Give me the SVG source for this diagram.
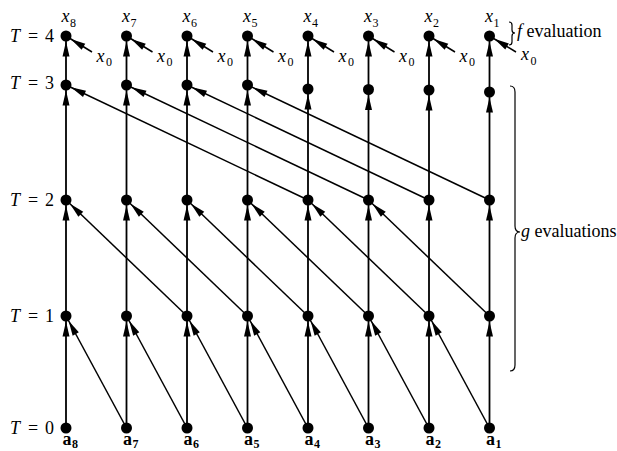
<svg xmlns="http://www.w3.org/2000/svg" width="617" height="451" viewBox="0 0 617 451" font-family="'Liberation Serif', 'DejaVu Serif', serif">
<style>
text{font-family:'Liberation Serif','DejaVu Serif',serif;fill:#000}
.it{font-style:italic}
.lab{font-size:18px}
.sub{font-size:12px;font-style:normal}
.bold{font-weight:bold}
.v{stroke:#000;stroke-width:1.8;fill:none;marker-end:url(#ah)}
.d{stroke:#000;stroke-width:1.5;fill:none;marker-end:url(#ah)}
.node{fill:#000}
.brace{stroke:#000;stroke-width:1.2;fill:none}
</style>
<defs>
<marker id="ah" markerUnits="userSpaceOnUse" markerWidth="16" markerHeight="8" refX="20.5" refY="3.5" orient="auto" overflow="visible">
<path d="M0,0 L15,3.5 L0,7 z" fill="#000"/>
</marker>
</defs>
<rect width="617" height="451" fill="#fff"/>
<g id="connectors">
<line class="v" x1="66" y1="428" x2="66" y2="316"/>
<line class="v" x1="126.5" y1="428" x2="126.5" y2="316"/>
<line class="v" x1="187" y1="428" x2="187" y2="316"/>
<line class="v" x1="247.5" y1="428" x2="247.5" y2="316"/>
<line class="v" x1="308" y1="428" x2="308" y2="316"/>
<line class="v" x1="368.5" y1="428" x2="368.5" y2="316"/>
<line class="v" x1="429" y1="428" x2="429" y2="316"/>
<line class="v" x1="489.5" y1="428" x2="489.5" y2="316"/>
<line class="v" x1="66" y1="316" x2="66" y2="200"/>
<line class="v" x1="126.5" y1="316" x2="126.5" y2="200"/>
<line class="v" x1="187" y1="316" x2="187" y2="200"/>
<line class="v" x1="247.5" y1="316" x2="247.5" y2="200"/>
<line class="v" x1="308" y1="316" x2="308" y2="200"/>
<line class="v" x1="368.5" y1="316" x2="368.5" y2="200"/>
<line class="v" x1="429" y1="316" x2="429" y2="200"/>
<line class="v" x1="489.5" y1="316" x2="489.5" y2="200"/>
<line class="v" x1="66" y1="200" x2="66" y2="85"/>
<line class="v" x1="126.5" y1="200" x2="126.5" y2="85"/>
<line class="v" x1="187" y1="200" x2="187" y2="85"/>
<line class="v" x1="247.5" y1="200" x2="247.5" y2="85"/>
<line class="v" x1="308" y1="200" x2="308" y2="89"/>
<line class="v" x1="368.5" y1="200" x2="368.5" y2="89.5"/>
<line class="v" x1="429" y1="200" x2="429" y2="90"/>
<line class="v" x1="489.5" y1="200" x2="489.5" y2="92"/>
<line class="v" x1="66" y1="85" x2="66" y2="36"/>
<line class="v" x1="126.5" y1="85" x2="126.5" y2="36"/>
<line class="v" x1="187" y1="85" x2="187" y2="36"/>
<line class="v" x1="247.5" y1="85" x2="247.5" y2="36"/>
<line class="v" x1="308" y1="89" x2="308" y2="36"/>
<line class="v" x1="368.5" y1="89.5" x2="368.5" y2="36"/>
<line class="v" x1="429" y1="90" x2="429" y2="36"/>
<line class="v" x1="489.5" y1="92" x2="489.5" y2="36"/>
<line class="d" x1="126.5" y1="428" x2="66" y2="316"/>
<line class="d" x1="187" y1="428" x2="126.5" y2="316"/>
<line class="d" x1="247.5" y1="428" x2="187" y2="316"/>
<line class="d" x1="308" y1="428" x2="247.5" y2="316"/>
<line class="d" x1="368.5" y1="428" x2="308" y2="316"/>
<line class="d" x1="429" y1="428" x2="368.5" y2="316"/>
<line class="d" x1="489.5" y1="428" x2="429" y2="316"/>
<line class="d" x1="187" y1="316" x2="66" y2="200"/>
<line class="d" x1="247.5" y1="316" x2="126.5" y2="200"/>
<line class="d" x1="308" y1="316" x2="187" y2="200"/>
<line class="d" x1="368.5" y1="316" x2="247.5" y2="200"/>
<line class="d" x1="429" y1="316" x2="308" y2="200"/>
<line class="d" x1="489.5" y1="316" x2="368.5" y2="200"/>
<line class="d" x1="308" y1="200" x2="66" y2="85"/>
<line class="d" x1="368.5" y1="200" x2="126.5" y2="85"/>
<line class="d" x1="429" y1="200" x2="187" y2="85"/>
<line class="d" x1="489.5" y1="200" x2="247.5" y2="85"/>
<line class="d" x1="92" y1="52" x2="66" y2="36"/>
<line class="d" x1="152.5" y1="52" x2="126.5" y2="36"/>
<line class="d" x1="213" y1="52" x2="187" y2="36"/>
<line class="d" x1="273.5" y1="52" x2="247.5" y2="36"/>
<line class="d" x1="334" y1="52" x2="308" y2="36"/>
<line class="d" x1="394.5" y1="52" x2="368.5" y2="36"/>
<line class="d" x1="455" y1="52" x2="429" y2="36"/>
<line class="d" x1="516" y1="52" x2="489.5" y2="36"/>
</g>
<g id="col-x8">
<circle class="node" cx="66" cy="36" r="5.5"/><circle class="node" cx="66" cy="85" r="5.5"/><circle class="node" cx="66" cy="200" r="5.5"/><circle class="node" cx="66" cy="316" r="5.5"/><circle class="node" cx="66" cy="428" r="5.5"/>
<text class="lab it" x="61.5" y="22">x<tspan class="sub" x="70" y="27">8</tspan></text>
<text class="lab it" x="96.5" y="62">x<tspan class="sub" x="106" y="66">0</tspan></text>
<text class="lab bold" x="62.5" y="445">a<tspan class="sub" x="72" y="448">8</tspan></text>
</g>
<g id="col-x7">
<circle class="node" cx="126.5" cy="36" r="5.5"/><circle class="node" cx="126.5" cy="85" r="5.5"/><circle class="node" cx="126.5" cy="200" r="5.5"/><circle class="node" cx="126.5" cy="316" r="5.5"/><circle class="node" cx="126.5" cy="428" r="5.5"/>
<text class="lab it" x="122" y="22">x<tspan class="sub" x="130.5" y="27">7</tspan></text>
<text class="lab it" x="157" y="62">x<tspan class="sub" x="166.5" y="66">0</tspan></text>
<text class="lab bold" x="123" y="445">a<tspan class="sub" x="132.5" y="448">7</tspan></text>
</g>
<g id="col-x6">
<circle class="node" cx="187" cy="36" r="5.5"/><circle class="node" cx="187" cy="85" r="5.5"/><circle class="node" cx="187" cy="200" r="5.5"/><circle class="node" cx="187" cy="316" r="5.5"/><circle class="node" cx="187" cy="428" r="5.5"/>
<text class="lab it" x="182.5" y="22">x<tspan class="sub" x="191" y="27">6</tspan></text>
<text class="lab it" x="217.5" y="62">x<tspan class="sub" x="227" y="66">0</tspan></text>
<text class="lab bold" x="183.5" y="445">a<tspan class="sub" x="193" y="448">6</tspan></text>
</g>
<g id="col-x5">
<circle class="node" cx="247.5" cy="36" r="5.5"/><circle class="node" cx="247.5" cy="85" r="5.5"/><circle class="node" cx="247.5" cy="200" r="5.5"/><circle class="node" cx="247.5" cy="316" r="5.5"/><circle class="node" cx="247.5" cy="428" r="5.5"/>
<text class="lab it" x="243" y="22">x<tspan class="sub" x="251.5" y="27">5</tspan></text>
<text class="lab it" x="278" y="62">x<tspan class="sub" x="287.5" y="66">0</tspan></text>
<text class="lab bold" x="244" y="445">a<tspan class="sub" x="253.5" y="448">5</tspan></text>
</g>
<g id="col-x4">
<circle class="node" cx="308" cy="36" r="5.5"/><circle class="node" cx="308" cy="89" r="5.5"/><circle class="node" cx="308" cy="200" r="5.5"/><circle class="node" cx="308" cy="316" r="5.5"/><circle class="node" cx="308" cy="428" r="5.5"/>
<text class="lab it" x="303.5" y="22">x<tspan class="sub" x="312" y="27">4</tspan></text>
<text class="lab it" x="338.5" y="62">x<tspan class="sub" x="348" y="66">0</tspan></text>
<text class="lab bold" x="304.5" y="445">a<tspan class="sub" x="314" y="448">4</tspan></text>
</g>
<g id="col-x3">
<circle class="node" cx="368.5" cy="36" r="5.5"/><circle class="node" cx="368.5" cy="89.5" r="5.5"/><circle class="node" cx="368.5" cy="200" r="5.5"/><circle class="node" cx="368.5" cy="316" r="5.5"/><circle class="node" cx="368.5" cy="428" r="5.5"/>
<text class="lab it" x="364" y="22">x<tspan class="sub" x="372.5" y="27">3</tspan></text>
<text class="lab it" x="399" y="62">x<tspan class="sub" x="408.5" y="66">0</tspan></text>
<text class="lab bold" x="365" y="445">a<tspan class="sub" x="374.5" y="448">3</tspan></text>
</g>
<g id="col-x2">
<circle class="node" cx="429" cy="36" r="5.5"/><circle class="node" cx="429" cy="90" r="5.5"/><circle class="node" cx="429" cy="200" r="5.5"/><circle class="node" cx="429" cy="316" r="5.5"/><circle class="node" cx="429" cy="428" r="5.5"/>
<text class="lab it" x="424.5" y="22">x<tspan class="sub" x="433" y="27">2</tspan></text>
<text class="lab it" x="459.5" y="62">x<tspan class="sub" x="469" y="66">0</tspan></text>
<text class="lab bold" x="425.5" y="445">a<tspan class="sub" x="435" y="448">2</tspan></text>
</g>
<g id="col-x1">
<circle class="node" cx="489.5" cy="36" r="5.5"/><circle class="node" cx="489.5" cy="92" r="5.5"/><circle class="node" cx="489.5" cy="200" r="5.5"/><circle class="node" cx="489.5" cy="316" r="5.5"/><circle class="node" cx="489.5" cy="428" r="5.5"/>
<text class="lab it" x="485" y="22">x<tspan class="sub" x="493.5" y="27">1</tspan></text>
<text class="lab it" x="521" y="60">x<tspan class="sub" x="530.5" y="65">0</tspan></text>
<text class="lab bold" x="486" y="445">a<tspan class="sub" x="495.5" y="448">1</tspan></text>
</g>
<g id="row-labels">
<text class="lab" y="42"><tspan x="10" class="it">T</tspan><tspan x="28">=</tspan><tspan x="45">4</tspan></text>
<text class="lab" y="89"><tspan x="10" class="it">T</tspan><tspan x="28">=</tspan><tspan x="45">3</tspan></text>
<text class="lab" y="206"><tspan x="10" class="it">T</tspan><tspan x="28">=</tspan><tspan x="45">2</tspan></text>
<text class="lab" y="322"><tspan x="10" class="it">T</tspan><tspan x="28">=</tspan><tspan x="45">1</tspan></text>
<text class="lab" y="434"><tspan x="10" class="it">T</tspan><tspan x="28">=</tspan><tspan x="45">0</tspan></text>
</g>
<g id="f-evaluation">
<path class="brace" d="M509,22 Q512,22 512,25 L512,30 Q512,33 515,33 Q512,33 512,36 L512,42 Q512,45 509,45"/>
<text class="lab" x="517" y="37"><tspan class="it">f</tspan> evaluation</text>
</g>
<g id="g-evaluations">
<path class="brace" d="M510,86 Q515,86 515,92 L515,226 Q515,232 520,232 Q515,232 515,238 L515,365 Q515,371 510,371"/>
<text class="lab" x="521" y="237"><tspan class="it">g</tspan> evaluations</text>
</g>
</svg>
